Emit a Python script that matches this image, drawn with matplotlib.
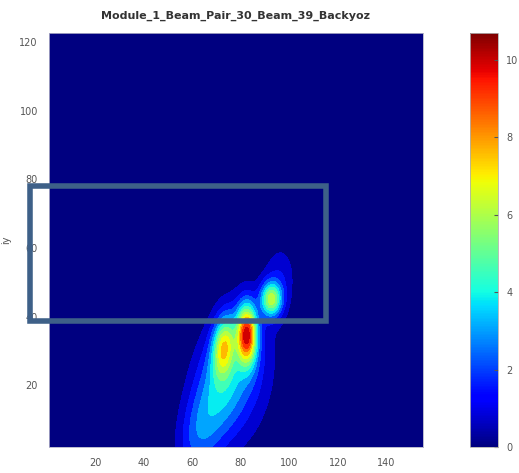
import numpy as np
import matplotlib
matplotlib.use('Agg')
import matplotlib.pyplot as plt
from matplotlib.patches import Rectangle

title = 'Module_1_Beam_Pair_30_Beam_39_Backyoz'
x_ticks = [20, 40, 60, 80, 100, 120, 140]
y_ticks = [20, 40, 60, 80, 100, 120]
cb_ticks = [0, 2, 4, 6, 8, 10]
x_range = (1, 155)
y_range = (2, 122.6)
z_max = 10.7

# blobs: centre x, centre y, spread along, spread across, angle (deg), height
blob_x = [82.5, 73.0, 92.5, 96.0, 73.0, 62.0, 87.0]
blob_y = [35.0, 31.5, 45.0, 51.0, 21.0, 5.0, 22.0]
blob_sa = [6.0, 6.0, 3.5, 7.0, 14.0, 9.0, 14.0]
blob_sb = [2.8, 3.0, 3.0, 4.5, 8.0, 5.5, 7.0]
blob_ang = [90, 82, 90, 85, 70, 72, 78]
blob_h = [8.4, 5.0, 5.6, 1.3, 4.0, 1.6, 0.8]

gx = np.linspace(x_range[0], x_range[1], 400)
gy = np.linspace(y_range[0], y_range[1], 400)
X, Y = np.meshgrid(gx, gy)
Z = np.zeros_like(X)
for x0, y0, sa, sb, a, h in zip(blob_x, blob_y, blob_sa, blob_sb, blob_ang, blob_h):
    t = np.deg2rad(a)
    u = (X - x0) * np.cos(t) + (Y - y0) * np.sin(t)
    v = -(X - x0) * np.sin(t) + (Y - y0) * np.cos(t)
    Z += h * np.exp(-0.5 * ((u / sa) ** 2 + (v / sb) ** 2))

cmap = plt.get_cmap('jet')
norm = matplotlib.colors.Normalize(0, z_max)
levels = np.linspace(0, z_max, 15)
cols = [cmap(norm(l)) for l in levels[:-1]]

fig = plt.figure(figsize=(5.19, 4.73), dpi=100)
ax = fig.add_axes([49/519, 1-447/473, (423-49)/519, (447-33)/473])
ax.set_facecolor(cmap(0.0))
ax.contourf(X, Y, Z, levels=levels, colors=cols, extend='max')
ax.set_xlim(*x_range)
ax.set_ylim(*y_range)
ax.set_xticks(x_ticks)
ax.set_yticks(y_ticks)
ax.tick_params(length=0, labelsize=7, colors='#555555', pad=8)
for s in ax.spines.values():
    s.set_color('#b0b0c8')
    s.set_linewidth(0.6)
ax.set_ylabel('iy', fontsize=7, color='#555555', labelpad=6)
ax.set_title(title, fontsize=8, fontweight='bold', color='#333333', pad=10)

cax = fig.add_axes([470/519, 1-447/473, 28/519, (447-33)/473])
sm = matplotlib.cm.ScalarMappable(norm=norm, cmap=cmap)
cb = fig.colorbar(sm, cax=cax, ticks=cb_ticks)
cb.outline.set_edgecolor('#b0b0b0')
cb.outline.set_linewidth(0.6)
cax.tick_params(length=3, direction='in', labelsize=7, colors='#555555', pad=6)

fig.patches.append(Rectangle((30/519, 1-321/473), 296/519, 135/473,
                             transform=fig.transFigure, fill=False,
                             edgecolor='#3e6088', linewidth=4, zorder=10))

fig.savefig('out.png', dpi=100)
